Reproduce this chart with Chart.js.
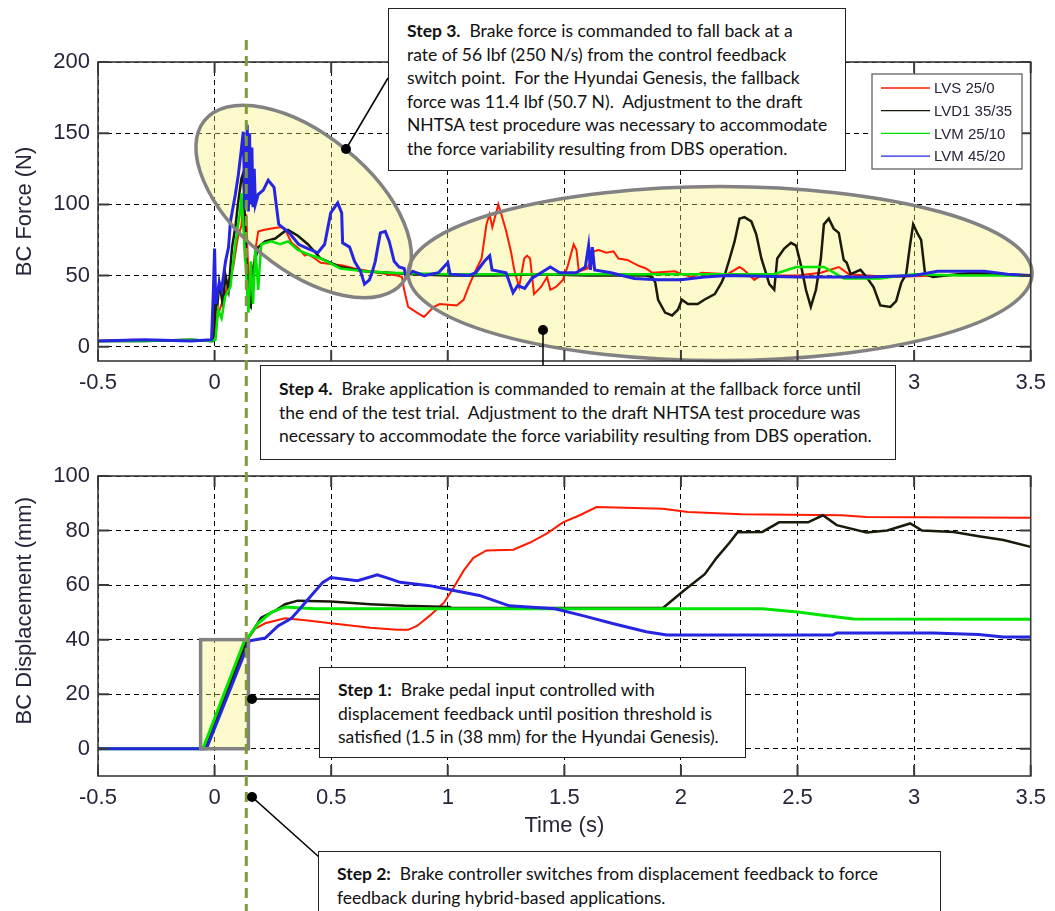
<!DOCTYPE html>
<html>
<head>
<meta charset="utf-8">
<script src="https://cdn.jsdelivr.net/npm/chart.js@4.4.0/dist/chart.umd.min.js"></script>
<style>
  body { margin: 0; background: #fff; width: 1055px; height: 911px; overflow: hidden; position: relative; }
  #topChart { position: absolute; left: 0; top: 0; }
  #bottomChart { position: absolute; left: 0; top: 440px; }
  #links { position: absolute; left: 0; top: 0; }
  .note {
    position: absolute; background: #fff; border: 1px solid #222; box-sizing: border-box;
    font-family: Lato, 'Open Sans', sans-serif; font-size: 17.5px; line-height: 23.5px;
    color: #111; white-space: pre;
  }
</style>
</head>
<body>
<canvas id="topChart" width="1055" height="440"></canvas>
<canvas id="bottomChart" width="1055" height="471"></canvas>

<svg id="links" width="1055" height="911">
  <g stroke="#000" stroke-width="1.5">
    <line x1="346" y1="149" x2="388" y2="78"/>
    <line x1="543" y1="330" x2="543" y2="365"/>
    <line x1="252" y1="699" x2="319" y2="699"/>
    <line x1="252" y1="797" x2="319" y2="857"/>
  </g>
  <g fill="#000">
    <circle cx="346" cy="149" r="5"/>
    <circle cx="543" cy="330" r="5"/>
    <circle cx="252" cy="699" r="5"/>
    <circle cx="252" cy="797" r="5"/>
  </g>
</svg>

<div class="note" style="left:388px;top:8px;width:458px;height:163px;padding:10px 0 0 18px"><b>Step 3.</b>  Brake force is commanded to fall back at a<br>rate of 56 lbf (250 N/s) from the control feedback<br>switch point.  For the Hyundai Genesis, the fallback<br>force was 11.4 lbf (50.7 N).  Adjustment to the draft<br>NHTSA test procedure was necessary to accommodate<br>the force variability resulting from DBS operation.</div>

<div class="note" style="left:260px;top:365px;width:636px;height:95px;padding:11px 0 0 18px"><b>Step 4.</b>  Brake application is commanded to remain at the fallback force until<br>the end of the test trial.  Adjustment to the draft NHTSA test procedure was<br>necessary to accommodate the force variability resulting from DBS operation.</div>

<div class="note" style="left:319px;top:667px;width:427px;height:91px;padding:10px 0 0 18px"><b>Step 1:</b>  Brake pedal input controlled with<br>displacement feedback until position threshold is<br>satisfied (1.5 in (38 mm) for the Hyundai Genesis).</div>

<div class="note" style="left:318px;top:851px;width:623px;height:70px;padding:10px 0 0 18px"><b>Step 2:</b>  Brake controller switches from displacement feedback to force<br>feedback during hybrid-based applications.</div>

<script>
// tick values
const timeTicks = [-0.5, 0, 0.5, 1, 1.5, 2, 2.5, 3, 3.5];
const forceTicks = [0, 50, 100, 150, 200];
const dispTicks = [0, 20, 40, 60, 80, 100];

const seriesNames = ['LVS 25/0', 'LVD1 35/35', 'LVM 25/10', 'LVM 45/20'];

// BC force (N) vs time (s)
const forceLVS = [[-0.5,4],[-0.35,5],[-0.2,4],[-0.05,4],[-0.01,4],[0,30],[0.01,20],[0.03,30],[0.045,37],[0.06,45],
  [0.08,56],[0.1,77],[0.115,85],[0.123,100],[0.13,60],[0.136,93],[0.145,49],[0.157,40],[0.165,55],[0.174,67],
  [0.187,81],[0.209,82],[0.243,83],[0.281,84],[0.302,83],[0.315,78],[0.33,73],[0.36,69],[0.387,64],[0.4,65],
  [0.43,62],[0.455,59],[0.55,57],[0.6,55],[0.7,52],[0.783,50],[0.804,49],[0.813,40],[0.83,28],[0.868,24],
  [0.898,21],[0.94,28],[0.966,30],[1.038,29],[1.068,33],[1.089,42],[1.115,52],[1.145,62],[1.166,86],[1.179,93],
  [1.191,84],[1.217,100],[1.23,93],[1.251,81],[1.272,66],[1.285,54],[1.306,42],[1.328,62],[1.34,64],[1.353,62],
  [1.37,37],[1.4,42],[1.426,49],[1.44,40],[1.464,42],[1.494,47],[1.515,57],[1.54,72],[1.552,68],[1.562,53],
  [1.6,55],[1.626,67],[1.647,68],[1.68,66],[1.711,67],[1.732,62],[1.77,61],[1.817,57],[1.85,55],[1.877,52],
  [1.974,53],[2.004,51],[2.047,49],[2.089,52],[2.2,51],[2.251,56],[2.27,54],[2.315,47],[2.34,50],[2.5,50],
  [2.6,52],[2.677,56],[2.72,51],[2.9,49],[3.1,50],[3.3,51],[3.5,50]];

const forceLVD1 = [[-0.5,4],[-0.3,4],[-0.1,5],[-0.01,4],[0,10],[0.004,37],[0.01,25],[0.02,45],[0.035,30],[0.047,50],
  [0.06,40],[0.075,70],[0.09,85],[0.1,100],[0.115,118],[0.123,122],[0.13,90],[0.136,60],[0.145,30],[0.155,28],
  [0.165,55],[0.187,70],[0.217,74],[0.26,76],[0.3,81],[0.315,82],[0.357,78],[0.4,72],[0.455,62],[0.54,56],
  [0.643,53],[0.75,52],[0.85,51],[1.0,50],[1.2,50],[1.4,51],[1.6,50],[1.85,50],[1.877,49],[1.89,45],
  [1.902,33],[1.932,24],[1.962,22],[1.987,26],[2.004,33],[2.03,30],[2.072,30],[2.1,33],[2.145,37],[2.174,45],
  [2.187,50],[2.209,62],[2.23,74],[2.251,90],[2.272,91],[2.302,88],[2.323,79],[2.345,62],[2.366,51],[2.379,44],
  [2.4,40],[2.413,62],[2.443,69],[2.472,73],[2.494,71],[2.515,57],[2.536,40],[2.557,28],[2.579,40],[2.6,62],
  [2.613,86],[2.634,90],[2.655,83],[2.677,80],[2.698,61],[2.711,59],[2.728,51],[2.77,54],[2.796,49],[2.826,42],
  [2.855,29],[2.898,28],[2.923,32],[2.945,45],[2.966,51],[2.983,72],[2.996,86],[3.013,80],[3.03,75],[3.047,51],
  [3.081,49],[3.136,50],[3.25,52],[3.35,51],[3.5,50]];

const forceLVM1 = [[-0.5,4],[-0.3,4],[-0.1,5],[-0.01,4],[0.004,5],[0.015,26],[0.03,20],[0.045,35],[0.068,42],[0.08,60],
  [0.089,72],[0.1,85],[0.11,95],[0.115,108],[0.125,80],[0.136,50],[0.145,24],[0.155,60],[0.165,30],[0.175,69],
  [0.187,40],[0.2,72],[0.243,74],[0.281,72],[0.315,74],[0.357,68],[0.4,65],[0.455,62],[0.54,55],[0.643,53],
  [0.75,52],[1.0,51],[1.5,51],[2.0,51],[2.4,51],[2.494,56],[2.613,56],[2.7,48],[2.855,48],[2.9,49],
  [3.0,51],[3.2,50],[3.5,50]];

const forceLVM2 = [[-0.5,4],[-0.3,5],[-0.1,4],[-0.013,5],[-0.005,40],[0,69],[0.005,30],[0.02,45],[0.03,40],[0.047,60],
  [0.06,70],[0.068,88],[0.089,107],[0.102,121],[0.115,139],[0.123,151],[0.13,97],[0.14,156],[0.145,95],[0.15,150],
  [0.155,100],[0.16,140],[0.165,98],[0.17,125],[0.175,100],[0.187,107],[0.209,110],[0.23,117],[0.255,112],[0.275,86],
  [0.32,80],[0.36,72],[0.4,69],[0.443,66],[0.472,72],[0.498,94],[0.528,101],[0.545,94],[0.549,73],[0.579,70],
  [0.6,60],[0.626,53],[0.643,44],[0.664,47],[0.677,53],[0.689,60],[0.711,80],[0.732,81],[0.749,74],[0.77,60],
  [0.791,56],[0.813,55],[0.82,50],[0.85,53],[0.9,50],[0.96,52],[1.0,59],[1.01,51],[1.09,50],[1.12,52],
  [1.157,60],[1.18,64],[1.19,54],[1.25,52],[1.28,38],[1.3,43],[1.33,41],[1.36,48],[1.4,52],[1.44,56],
  [1.48,52],[1.55,52],[1.59,56],[1.604,71],[1.612,54],[1.62,70],[1.63,54],[1.7,52],[1.8,48],[1.9,47],
  [2.0,47],[2.1,49],[2.2,50],[2.5,49],[2.8,49],[3.0,50],[3.1,53],[3.3,53],[3.4,51],[3.5,50]];

// BC displacement (mm) vs time (s)
const dispLVS = [[-0.5,0],[-0.04,0],[0.14,40],[0.175,44],[0.217,46],[0.302,47.8],[0.4,47],[0.498,46],[0.668,44.4],[0.783,43.6],
  [0.83,43.6],[0.868,45],[0.923,48.8],[0.983,53.5],[1.025,59],[1.068,65.3],[1.11,70],[1.166,72.7],[1.281,73],[1.353,75.6],
  [1.426,79],[1.494,83],[1.566,85.6],[1.638,88.6],[1.923,88],[2.03,86.8],[2.26,86],[2.689,85.6],[2.796,85],[3.5,84.7]];

const dispLVD1 = [[-0.5,0],[-0.04,0],[0.14,40],[0.2,48],[0.26,50.6],[0.302,53],[0.357,54.3],[0.498,54],[0.668,53],[0.813,52.4],
  [1.009,52],[1.013,51.7],[1.923,51.6],[2.013,58],[2.102,64],[2.153,70],[2.209,75.6],[2.243,79.4],[2.349,79.5],[2.421,83],
  [2.545,83],[2.609,85.6],[2.668,82],[2.796,79.3],[2.885,80],[2.983,82.6],[3.034,80],[3.17,79.5],[3.277,77.9],[3.383,76.5],
  [3.5,74]];

const dispLVM1 = [[-0.5,0],[-0.05,0],[0.13,40],[0.145,41],[0.187,46],[0.243,50],[0.302,52],[0.43,51.3],[1.0,51.3],[2.349,51.3],
  [2.511,50],[2.6,49],[2.74,47.6],[3.5,47.5]];

const dispLVM2 = [[-0.5,0],[-0.035,0],[0.15,39.6],[0.217,40.6],[0.272,45],[0.328,47.7],[0.37,51.7],[0.413,56],[0.464,61],[0.498,62.8],
  [0.613,61.6],[0.698,63.8],[0.753,62.3],[0.796,61],[0.923,59.8],[1.009,58.3],[1.136,56.2],[1.264,52.4],[1.46,51.3],[1.583,48.7],
  [1.711,45.8],[1.851,42.9],[1.94,41.7],[2.651,41.7],[2.668,42.4],[3.081,42.4],[3.277,41.9],[3.383,41],[3.5,41]];

const switchTime = 0.136;

const colors = ['#ff1a00', '#1a1a0a', '#00e400', '#2626e0'];
const textColor = '#26263a';
const axisFont = { family: "'Liberation Sans', Arial, sans-serif", size: 22 };

function toPoints(arr) { return arr.map(p => ({ x: p[0], y: p[1] })); }

function makeDatasets(list, widths) {
  // blue drawn on top, red at the bottom
  const order = [3, 2, 1, 0];
  return list.map((arr, i) => ({
    label: seriesNames[i],
    data: toPoints(arr),
    borderColor: colors[i],
    backgroundColor: colors[i],
    borderWidth: widths[i],
    pointRadius: 0,
    tension: 0,
    order: order[i]
  }));
}

const annot = {
  id: 'annot',
  beforeDatasetsDraw(chart, args, o) {
    const { ctx } = chart;
    const xs = chart.scales.x, ys = chart.scales.y;
    ctx.save();
    ctx.fillStyle = 'rgba(248,238,110,0.36)';
    (o.ellipses || []).forEach(e => {
      ctx.beginPath();
      ctx.ellipse(xs.getPixelForValue(e.t), ys.getPixelForValue(e.v), e.rx, e.ry, e.rot * Math.PI / 180, 0, Math.PI * 2);
      ctx.fill();
    });
    (o.rects || []).forEach(r => {
      const x1 = xs.getPixelForValue(r.t1), x2 = xs.getPixelForValue(r.t2);
      const y1 = ys.getPixelForValue(r.v2), y2 = ys.getPixelForValue(r.v1);
      ctx.fillRect(x1, y1, x2 - x1, y2 - y1);
    });
    ctx.restore();
  },
  afterDatasetsDraw(chart, args, o) {
    const { ctx } = chart;
    const xs = chart.scales.x, ys = chart.scales.y;
    ctx.save();
    ctx.strokeStyle = '#828282';
    ctx.lineWidth = 3.5;
    (o.ellipses || []).forEach(e => {
      ctx.beginPath();
      ctx.ellipse(xs.getPixelForValue(e.t), ys.getPixelForValue(e.v), e.rx, e.ry, e.rot * Math.PI / 180, 0, Math.PI * 2);
      ctx.stroke();
    });
    (o.rects || []).forEach(r => {
      const x1 = xs.getPixelForValue(r.t1), x2 = xs.getPixelForValue(r.t2);
      const y1 = ys.getPixelForValue(r.v2), y2 = ys.getPixelForValue(r.v1);
      ctx.strokeRect(x1, y1, x2 - x1, y2 - y1);
    });
    ctx.restore();
  },
  afterDraw(chart, args, o) {
    const { ctx, chartArea: a } = chart;
    const xs = chart.scales.x, ys = chart.scales.y;
    ctx.save();
    // box + inward ticks
    ctx.strokeStyle = '#3a3a3a';
    ctx.lineWidth = 1.6;
    ctx.strokeRect(a.left, a.top, a.right - a.left, a.bottom - a.top);
    ctx.lineWidth = 2;
    ctx.beginPath();
    xs.ticks.forEach(t => {
      const px = xs.getPixelForValue(t.value);
      ctx.moveTo(px, a.bottom); ctx.lineTo(px, a.bottom - 11);
      ctx.moveTo(px, a.top); ctx.lineTo(px, a.top + 11);
    });
    ys.ticks.forEach(t => {
      const py = ys.getPixelForValue(t.value);
      ctx.moveTo(a.left, py); ctx.lineTo(a.left + 11, py);
      ctx.moveTo(a.right, py); ctx.lineTo(a.right - 11, py);
    });
    ctx.stroke();

    // switch point line
    const sx = xs.getPixelForValue(switchTime);
    ctx.strokeStyle = '#7f9a3c';
    ctx.lineWidth = 3;
    ctx.setLineDash([10, 6]);
    ctx.beginPath();
    ctx.moveTo(sx, o.switchTop);
    ctx.lineTo(sx, chart.height);
    ctx.stroke();
    ctx.setLineDash([]);

    // legend
    if (o.legend) {
      const L = o.legend;
      ctx.fillStyle = '#fff';
      ctx.fillRect(L.x, L.y, L.w, L.h);
      ctx.strokeStyle = '#555';
      ctx.lineWidth = 1.2;
      ctx.strokeRect(L.x, L.y, L.w, L.h);
      ctx.font = "15px 'Liberation Sans', Arial, sans-serif";
      ctx.textBaseline = 'middle';
      chart.data.datasets.forEach((d, i) => {
        const yy = L.y + 14 + i * 22.7;
        ctx.strokeStyle = d.borderColor;
        ctx.lineWidth = 1.3;
        ctx.beginPath();
        ctx.moveTo(L.x + 9, yy); ctx.lineTo(L.x + 58, yy);
        ctx.stroke();
        ctx.fillStyle = textColor;
        ctx.fillText(d.label, L.x + 62, yy + 1);
      });
    }
    ctx.restore();
  }
};

function xAxis(withTitle, h) {
  return {
    type: 'linear', min: -0.5, max: 3.5,
    afterBuildTicks: s => { s.ticks = timeTicks.map(v => ({ value: v })); },
    afterFit: s => { s.height = h; },
    grid: { color: '#000', lineWidth: 1, drawTicks: false },
    border: { display: false, dash: [5, 4] },
    ticks: { padding: 9, color: textColor, font: axisFont, maxRotation: 0, autoSkip: false, callback: v => String(v) },
    title: { display: withTitle, text: 'Time (s)', color: textColor, font: axisFont, padding: { top: 0, bottom: 0 } }
  };
}

function yAxis(min, max, tickVals, label) {
  return {
    type: 'linear', min: min, max: max,
    afterBuildTicks: s => { s.ticks = tickVals.map(v => ({ value: v })); },
    afterFit: s => { s.width = 98; },
    grid: { color: '#000', lineWidth: 1, drawTicks: false },
    border: { display: false, dash: [5, 4] },
    ticks: { padding: 8, color: textColor, font: axisFont, callback: v => String(v) },
    title: { display: true, text: label, color: textColor, font: axisFont, padding: { top: 12, bottom: 0 } }
  };
}

new Chart(document.getElementById('topChart'), {
  type: 'line',
  data: { datasets: makeDatasets([forceLVS, forceLVD1, forceLVM1, forceLVM2], [2, 2.5, 2.5, 3]) },
  options: {
    responsive: false, animation: false, events: [],
    layout: { padding: { top: 62, right: 15, bottom: 40, left: 0 } },
    plugins: {
      legend: { display: false }, tooltip: { enabled: false },
      annot: {
        switchTop: 40,
        ellipses: [
          { t: 0.382, v: 102, rx: 128, ry: 67, rot: 39.3 },
          { t: 2.168, v: 51.4, rx: 312, ry: 87, rot: 0 }
        ],
        legend: { x: 872, y: 74, w: 150, h: 95 }
      }
    },
    scales: { x: xAxis(false, 39), y: yAxis(-10, 200, forceTicks, 'BC Force (N)') }
  },
  plugins: [annot]
});

new Chart(document.getElementById('bottomChart'), {
  type: 'line',
  data: { datasets: makeDatasets([dispLVS, dispLVD1, dispLVM1, dispLVM2], [2, 2.5, 3, 3]) },
  options: {
    responsive: false, animation: false, events: [],
    layout: { padding: { top: 36, right: 15, bottom: 72, left: 0 } },
    plugins: {
      legend: { display: false }, tooltip: { enabled: false },
      annot: {
        switchTop: 0,
        rects: [{ t1: -0.06, t2: 0.145, v1: 0, v2: 40 }]
      }
    },
    scales: { x: xAxis(true, 63), y: yAxis(-10, 100, dispTicks, '     BC Displacement (mm)') }
  },
  plugins: [annot]
});
</script>
</body>
</html>
